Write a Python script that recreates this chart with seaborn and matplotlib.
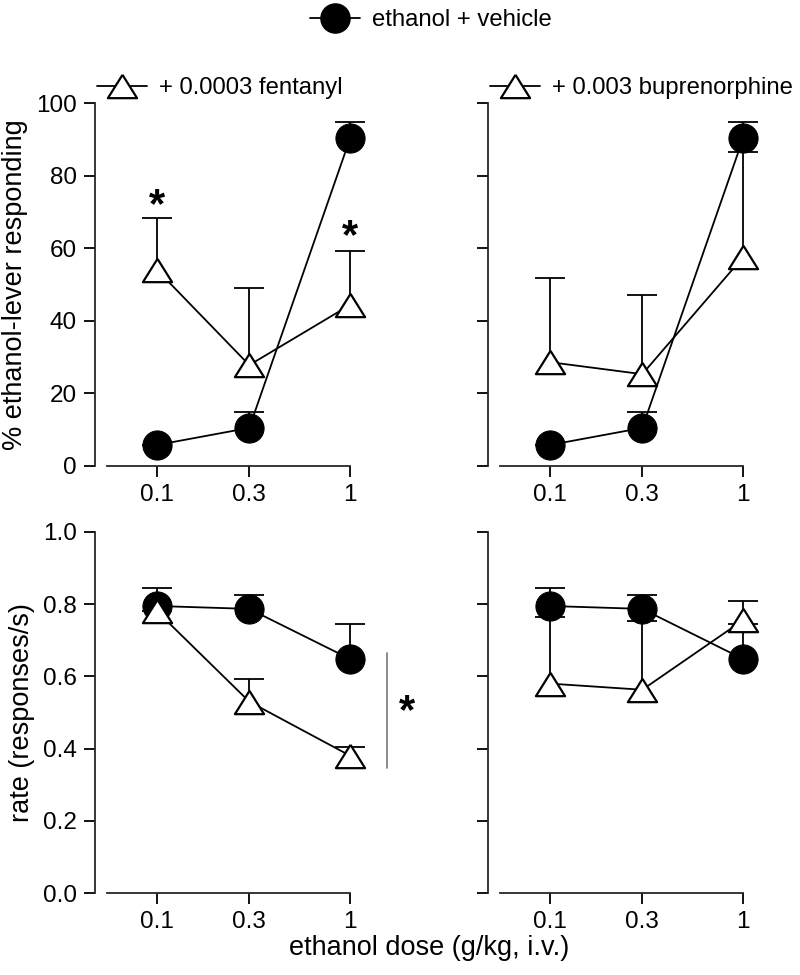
import numpy as np
import pandas as pd
import matplotlib
matplotlib.use("Agg")
import matplotlib.pyplot as plt
from matplotlib.lines import Line2D
import seaborn as sns

sns.set_theme(style="ticks")
plt.rcParams['font.family'] = ['Liberation Sans', 'DejaVu Sans']
plt.rcParams['text.color'] = 'black'

# ethanol doses (g/kg)
doses = [0.1, 0.3, 1.0]
dose_labels = ["0.1", "0.3", "1"]

# % ethanol-lever responding
pct_vehicle = [5.8, 10.5, 90.4]
pct_vehicle_err = [0.0, 4.4, 4.4]
pct_fentanyl = [54.0, 27.8, 44.4]
pct_fentanyl_err = [14.3, 21.2, 14.8]
pct_bup = [28.6, 25.3, 57.6]
pct_bup_err = [23.2, 21.8, 28.9]

# rate (responses/s)
rate_vehicle = [0.795, 0.787, 0.648]
rate_vehicle_err = [0.05, 0.039, 0.097]
rate_fentanyl = [0.78, 0.53, 0.38]
rate_fentanyl_err = [0.0, 0.063, 0.025]
rate_bup = [0.58, 0.563, 0.756]
rate_bup_err = [0.185, 0.19, 0.054]

tri = [(0, 0.8), (-1, -0.8), (1, -0.8), (0, 0.8)]
LW = 1.3
circ_kw = dict(marker="o", markersize=21, color="black", markerfacecolor="black",
               markeredgecolor="black", linewidth=LW)
tri_kw = dict(marker=tri, markersize=21, color="black", markerfacecolor="white",
              markeredgecolor="black", markeredgewidth=1.6, linewidth=LW)


def upper_err(ax, y, e, z):
    # error bar drawn upwards only, no cap at the mean
    eb = ax.errorbar(doses, y, yerr=[np.zeros(3), e], fmt="none", ecolor="black",
                     elinewidth=LW, capsize=11, capthick=LW, clip_on=False, zorder=z)
    caps = eb[1]
    if len(caps) == 2:
        caps[0].set_visible(False)
    for c in caps:
        c.set_clip_on(False)


def draw(ax, y_veh, e_veh, y_drug, e_drug):
    df_v = pd.DataFrame({"dose": doses, "y": y_veh})
    df_d = pd.DataFrame({"dose": doses, "y": y_drug})
    upper_err(ax, y_veh, e_veh, 2)
    sns.lineplot(data=df_v, x="dose", y="y", ax=ax, clip_on=False, zorder=3, **circ_kw)
    upper_err(ax, y_drug, e_drug, 4)
    sns.lineplot(data=df_d, x="dose", y="y", ax=ax, clip_on=False, zorder=5, **tri_kw)
    ax.set_xscale("log")
    ax.set_xlim(0.0477, 1.25)
    ax.set_xticks(doses)
    ax.set_xticklabels(dose_labels)
    ax.minorticks_off()
    ax.set_xlabel("")
    ax.set_ylabel("")
    sns.despine(ax=ax)
    ax.spines["bottom"].set_bounds(0.055, 1.0)
    ax.spines["left"].set_linewidth(1.3)
    ax.spines["bottom"].set_linewidth(1.3)
    ax.tick_params(axis="both", direction="out", length=8, width=1.3,
                   labelsize=17.5, colors="black", pad=5)


fig = plt.figure(figsize=(8, 9.75), dpi=100)
W, H = 800, 975
def add_ax(x0, ytop, ybot, w=274):
    return fig.add_axes([x0 / W, 1 - ybot / H, w / W, (ybot - ytop) / H])

ax_tl = add_ax(95, 103, 466)
ax_tr = add_ax(488, 103, 466)
ax_bl = add_ax(95, 532, 893)
ax_br = add_ax(488, 532, 893)

draw(ax_tl, pct_vehicle, pct_vehicle_err, pct_fentanyl, pct_fentanyl_err)
draw(ax_tr, pct_vehicle, pct_vehicle_err, pct_bup, pct_bup_err)
draw(ax_bl, rate_vehicle, rate_vehicle_err, rate_fentanyl, rate_fentanyl_err)
draw(ax_br, rate_vehicle, rate_vehicle_err, rate_bup, rate_bup_err)

for ax in (ax_tl, ax_tr):
    ax.set_ylim(0, 100)
    ax.set_yticks([0, 20, 40, 60, 80, 100])
for ax in (ax_bl, ax_br):
    ax.set_ylim(0, 1.0)
    ax.set_yticks([0.0, 0.2, 0.4, 0.6, 0.8, 1.0])
    ax.set_yticklabels(["0.0", "0.2", "0.4", "0.6", "0.8", "1.0"])
ax_tr.set_yticklabels([])
ax_br.set_yticklabels([])

ax_tl.set_ylabel("% ethanol-lever responding", fontsize=19.5, labelpad=6, color="black")
ax_bl.set_ylabel("rate (responses/s)", fontsize=19.5, labelpad=6, color="black")

# significance asterisks
ax_tl.text(0.1, 71.5, "*", ha="center", va="center", fontsize=30, fontweight="bold")
ax_tl.text(1.0, 63, "*", ha="center", va="center", fontsize=30, fontweight="bold")
ax_bl.plot([1.55, 1.55], [0.346, 0.665], color="#777777", linewidth=1.2, clip_on=False)
ax_bl.text(1.97, 0.5, "*", ha="center", va="center", fontsize=30, fontweight="bold",
           clip_on=False)

fig.text(429 / W, 1 - 948 / H, "ethanol dose (g/kg, i.v.)", ha="center", va="center",
         fontsize=19.5)

# legends
h_veh = Line2D([], [], **circ_kw)
h_fen = Line2D([], [], **tri_kw)
leg_kw = dict(loc="center left", frameon=False, fontsize=17.2, handlelength=2.1,
              handletextpad=0.5, borderpad=0, borderaxespad=0)
fig.legend([h_veh], ["ethanol + vehicle"], bbox_to_anchor=(310 / W, 1 - 20 / H), **leg_kw)
fig.legend([h_fen], ["+ 0.0003 fentanyl"], bbox_to_anchor=(97 / W, 1 - 88 / H), **leg_kw)
fig.legend([h_fen], ["+ 0.003 buprenorphine"], bbox_to_anchor=(490 / W, 1 - 88 / H), **leg_kw)

fig.savefig("out.png", dpi=100)
